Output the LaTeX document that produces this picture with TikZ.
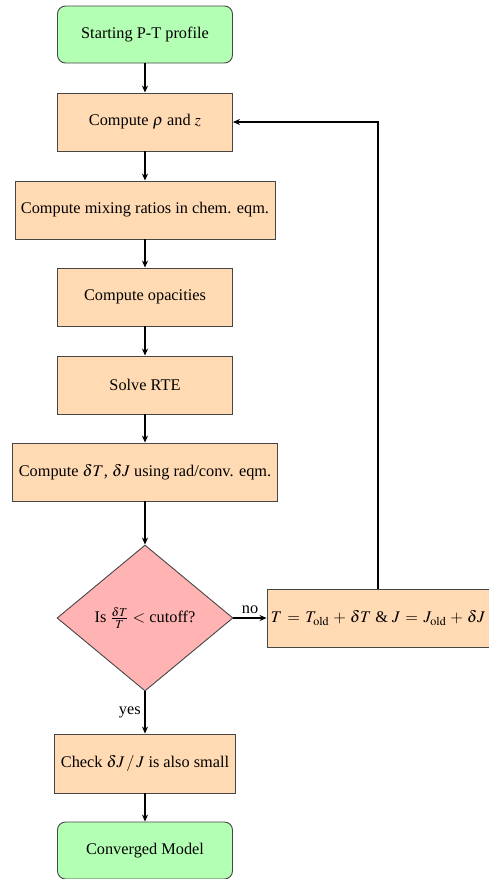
\documentclass[tikz,border=0pt]{standalone}
\usepackage{mathptmx}
\usepackage{fontspec}
\setmainfont{Liberation Serif}
\usetikzlibrary{shapes.geometric,arrows.meta}
\definecolor{termfill}{RGB}{179,255,179}
\definecolor{procfill}{RGB}{255,218,179}
\definecolor{decfill}{RGB}{255,179,179}
\definecolor{edgegray}{RGB}{70,70,70}
\tikzset{
  basebox/.style={draw=edgegray, line width=0.9pt, align=center, inner sep=2pt,
    font=\fontsize{16.3}{19}\selectfont},
  termbox/.style={basebox, fill=termfill, rounded corners=8pt, minimum width=175pt, minimum height=57pt},
  procbox/.style={basebox, fill=procfill, minimum height=58pt},
  decbox/.style={basebox, fill=decfill, diamond, minimum width=176pt, minimum height=146pt, inner sep=0pt},
  flowarrow/.style={line width=2pt, -{Stealth[length=7pt,width=6pt]}},
  lbl/.style={font=\fontsize{16.3}{19}\selectfont}
}
\begin{document}
\begin{tikzpicture}[x=1pt,y=-1pt]
\useasboundingbox (0,0) rectangle (488,879);
\node[termbox] (start) at (145,34.5) {Starting P-T profile};
\node[procbox, minimum width=175pt] (rho) at (145,122) {Compute $\rho$ and $z$};
\node[procbox, minimum width=260pt] (mix) at (145,210) {Compute mixing ratios in chem. eqm.};
\node[procbox, minimum width=175pt] (opac) at (145,297) {Compute opacities};
\node[procbox, minimum width=175pt] (rte) at (145,385) {Solve RTE};
\node[procbox, minimum width=265pt] (dT) at (145,472) {Compute $\delta T$, $\delta J$ using rad/conv. eqm.};
\node[decbox] (dia) at (145,618) {Is $\frac{\delta T}{T}$ $<$ cutoff?};
\node[procbox, minimum width=222pt] (upd) at (378,618) {$T \mathrel{\,=\,} T_{\mathrm{old}} \mathbin{\,+\,} \delta T$ \& $J \mathrel{\,=\,} J_{\mathrm{old}} \mathbin{\,+\,} \delta J$};
\node[procbox, minimum width=181pt, minimum height=59pt] (check) at (145,763.5) {Check $\delta J\,/\,J$ is also small};
\node[termbox] (conv) at (145,850.5) {Converged Model};
\draw[flowarrow] (start) -- (rho);
\draw[flowarrow] (rho) -- (mix);
\draw[flowarrow] (mix) -- (opac);
\draw[flowarrow] (opac) -- (rte);
\draw[flowarrow] (rte) -- (dT);
\draw[flowarrow] (dT) -- (dia);
\draw[flowarrow] (dia) -- node[lbl, above] {no} (upd);
\draw[flowarrow] (dia) -- node[lbl, left] {yes} (check);
\draw[flowarrow] (check) -- (conv);
\draw[flowarrow] (upd.north) |- (rho.east);
\end{tikzpicture}
\end{document}
